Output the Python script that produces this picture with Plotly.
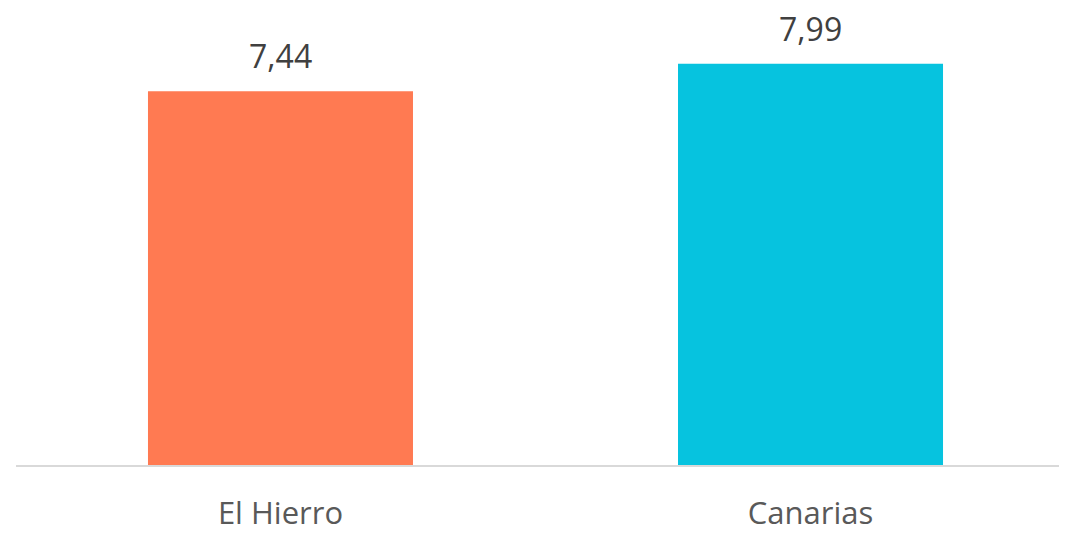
import plotly.graph_objects as go

categories = ["El Hierro", "Canarias"]
values = [7.44, 7.99]
colors = ["#FF7A52", "#06C3DF"]
value_labels = ["7,44", "7,99"]

fig = go.Figure()
fig.add_trace(go.Bar(
    x=categories, y=values, marker=dict(color=colors, line=dict(width=0)),
    width=0.5, hoverinfo="skip"
))

for c, v, t in zip(categories, values, value_labels):
    fig.add_annotation(x=c, y=v, text=t, showarrow=False, yanchor="bottom",
                       yshift=12, font=dict(family="Open Sans", size=32, color="#404040"))

fig.update_layout(
    width=1067, height=533,
    margin=dict(l=8, r=0, t=0, b=76),
    paper_bgcolor="white", plot_bgcolor="white",
    separators=",.",
    showlegend=False,
    bargap=0.5,
    font=dict(family="Open Sans", size=31, color="#595959"),
)
fig.update_xaxes(range=[-0.499, 1.499], showline=True, linecolor="#d9d9d9", linewidth=2,
                 ticks="", showgrid=False, ticklabelstandoff=20,
                 tickfont=dict(family="Open Sans", size=31, color="#595959"))
fig.update_yaxes(range=[0, 9.10], visible=False, showgrid=False, zeroline=False)

fig.write_html("out.html")
